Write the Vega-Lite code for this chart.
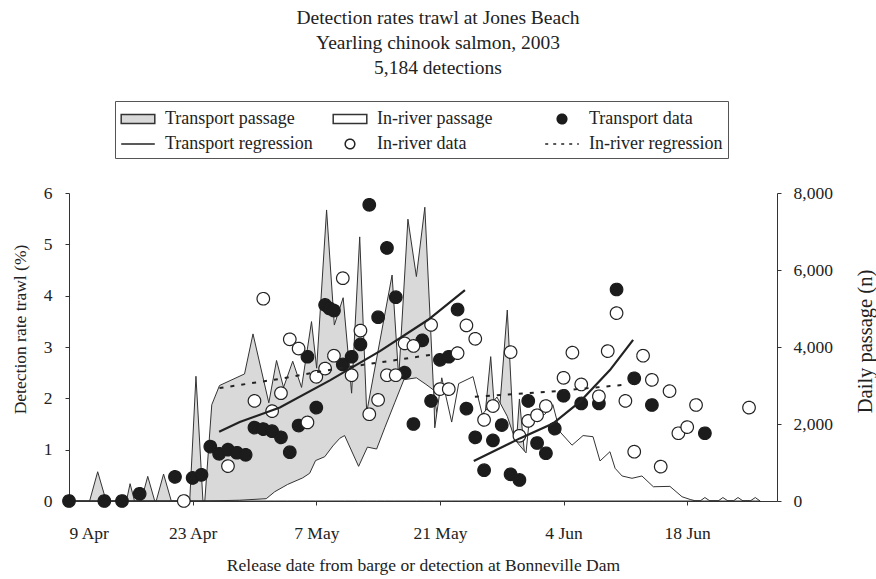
{
  "$schema": "https://vega.github.io/schema/vega-lite/v6.json",
  "width": 708,
  "height": 308,
  "autosize": {"type": "none"},
  "padding": {"left": 69, "top": 193, "right": 99, "bottom": 78},
  "background": "white",
  "title": {
    "text": ["Detection rates trawl at Jones Beach", "Yearling chinook salmon, 2003", "5,184 detections"],
    "font": "Liberation Serif",
    "fontSize": 19.5,
    "fontWeight": "normal",
    "color": "#222",
    "lineHeight": 25,
    "anchor": "middle",
    "dx": 15,
    "offset": 22
  },
  "config": {
    "font": "Liberation Serif",
    "view": {"stroke": null},
    "axis": {
      "labelFont": "Liberation Serif",
      "labelFontSize": 17.5,
      "labelColor": "#222",
      "titleFont": "Liberation Serif",
      "titleFontSize": 17.5,
      "titleFontWeight": "normal",
      "titleColor": "#222",
      "domainColor": "#333",
      "tickColor": "#333",
      "tickSize": 4,
      "grid": false,
      "labelPadding": 13
    },
    "legend": {
      "orient": "none",
      "legendX": 46,
      "legendY": -92,
      "direction": "horizontal",
      "columns": 3,
      "gridAlign": "all",
      "columnPadding": 17,
      "rowPadding": 3,
      "padding": 5,
      "symbolSize": 576,
      "symbolOffset": 5,
      "labelOffset": 14,
      "labelFont": "Liberation Serif",
      "labelFontSize": 18,
      "labelColor": "#222",
      "labelLimit": 300,
      "strokeColor": "#555",
      "symbolStrokeWidth": 1.5
    }
  },
  "datasets": {
    "transport_passage": [
      {"date": "2003-04-09T00:00Z", "passage": 0},
      {"date": "2003-04-11T08:00Z", "passage": 0},
      {"date": "2003-04-12T06:00Z", "passage": 760},
      {"date": "2003-04-13T05:00Z", "passage": 0},
      {"date": "2003-04-15T12:00Z", "passage": 0},
      {"date": "2003-04-15T22:00Z", "passage": 450},
      {"date": "2003-04-16T10:00Z", "passage": 0},
      {"date": "2003-04-17T04:00Z", "passage": 0},
      {"date": "2003-04-17T22:00Z", "passage": 640},
      {"date": "2003-04-18T17:00Z", "passage": 0},
      {"date": "2003-04-18T21:00Z", "passage": 0},
      {"date": "2003-04-19T17:00Z", "passage": 700},
      {"date": "2003-04-20T14:00Z", "passage": 0},
      {"date": "2003-04-22T16:00Z", "passage": 0},
      {"date": "2003-04-23T09:00Z", "passage": 3240},
      {"date": "2003-04-24T04:00Z", "passage": 0},
      {"date": "2003-04-24T09:00Z", "passage": 0},
      {"date": "2003-04-25T04:00Z", "passage": 2500},
      {"date": "2003-04-26T01:00Z", "passage": 3000},
      {"date": "2003-04-28T21:00Z", "passage": 3300},
      {"date": "2003-04-29T20:00Z", "passage": 4340},
      {"date": "2003-05-01T15:00Z", "passage": 2550},
      {"date": "2003-05-02T12:00Z", "passage": 3650},
      {"date": "2003-05-03T07:00Z", "passage": 2950},
      {"date": "2003-05-04T08:00Z", "passage": 3630},
      {"date": "2003-05-05T08:00Z", "passage": 2950},
      {"date": "2003-05-06T11:00Z", "passage": 4660},
      {"date": "2003-05-07T01:00Z", "passage": 3450},
      {"date": "2003-05-08T04:00Z", "passage": 7560},
      {"date": "2003-05-09T01:00Z", "passage": 4570},
      {"date": "2003-05-10T01:00Z", "passage": 5280},
      {"date": "2003-05-11T00:00Z", "passage": 2800},
      {"date": "2003-05-11T22:00Z", "passage": 6860},
      {"date": "2003-05-12T17:00Z", "passage": 2300},
      {"date": "2003-05-15T14:00Z", "passage": 5870},
      {"date": "2003-05-16T08:00Z", "passage": 3200},
      {"date": "2003-05-17T09:00Z", "passage": 7320},
      {"date": "2003-05-18T08:00Z", "passage": 5830},
      {"date": "2003-05-19T07:00Z", "passage": 7630},
      {"date": "2003-05-20T07:00Z", "passage": 2800},
      {"date": "2003-05-21T05:00Z", "passage": 1500},
      {"date": "2003-05-23T03:00Z", "passage": 1500},
      {"date": "2003-05-24T18:00Z", "passage": 1500},
      {"date": "2003-05-25T19:00Z", "passage": 1500},
      {"date": "2003-05-26T18:00Z", "passage": 3750},
      {"date": "2003-05-27T11:00Z", "passage": 1500},
      {"date": "2003-05-28T15:00Z", "passage": 4960},
      {"date": "2003-05-29T12:00Z", "passage": 1000},
      {"date": "2003-05-30T00:00Z", "passage": 2650},
      {"date": "2003-05-30T18:00Z", "passage": 800},
      {"date": "2003-05-31T04:00Z", "passage": 0},
      {"date": "2003-06-26T06:00Z", "passage": 0}
    ],
    "inriver_passage": [
      {"date": "2003-04-09T00:00Z", "passage": 0},
      {"date": "2003-04-24T09:00Z", "passage": 0},
      {"date": "2003-04-28T08:00Z", "passage": 20},
      {"date": "2003-05-01T08:00Z", "passage": 60},
      {"date": "2003-05-02T07:00Z", "passage": 240},
      {"date": "2003-05-03T18:00Z", "passage": 430},
      {"date": "2003-05-05T11:00Z", "passage": 600},
      {"date": "2003-05-06T06:00Z", "passage": 720},
      {"date": "2003-05-06T22:00Z", "passage": 1050},
      {"date": "2003-05-07T23:00Z", "passage": 1150},
      {"date": "2003-05-08T21:00Z", "passage": 1430},
      {"date": "2003-05-09T16:00Z", "passage": 1630},
      {"date": "2003-05-10T05:00Z", "passage": 1700},
      {"date": "2003-05-11T19:00Z", "passage": 900},
      {"date": "2003-05-12T19:00Z", "passage": 1400},
      {"date": "2003-05-13T20:00Z", "passage": 1350},
      {"date": "2003-05-14T18:00Z", "passage": 1900},
      {"date": "2003-05-15T21:00Z", "passage": 2550},
      {"date": "2003-05-16T22:00Z", "passage": 3150},
      {"date": "2003-05-18T08:00Z", "passage": 3200},
      {"date": "2003-05-19T10:00Z", "passage": 3030},
      {"date": "2003-05-20T07:00Z", "passage": 2880},
      {"date": "2003-05-20T10:00Z", "passage": 1900},
      {"date": "2003-05-21T05:00Z", "passage": 3200},
      {"date": "2003-05-22T08:00Z", "passage": 2050},
      {"date": "2003-05-23T03:00Z", "passage": 3050},
      {"date": "2003-05-24T18:00Z", "passage": 3230},
      {"date": "2003-05-25T19:00Z", "passage": 2250},
      {"date": "2003-05-26T18:00Z", "passage": 2500},
      {"date": "2003-05-27T11:00Z", "passage": 2700},
      {"date": "2003-05-28T15:00Z", "passage": 2200},
      {"date": "2003-05-29T12:00Z", "passage": 1600},
      {"date": "2003-05-30T00:00Z", "passage": 1450},
      {"date": "2003-05-30T18:00Z", "passage": 1250},
      {"date": "2003-05-31T04:00Z", "passage": 2230},
      {"date": "2003-06-01T21:00Z", "passage": 2250},
      {"date": "2003-06-02T19:00Z", "passage": 2500},
      {"date": "2003-06-03T14:00Z", "passage": 1800},
      {"date": "2003-06-04T23:00Z", "passage": 1450},
      {"date": "2003-06-06T05:00Z", "passage": 1700},
      {"date": "2003-06-07T08:00Z", "passage": 1670},
      {"date": "2003-06-08T03:00Z", "passage": 1040},
      {"date": "2003-06-09T06:00Z", "passage": 1280},
      {"date": "2003-06-09T20:00Z", "passage": 850},
      {"date": "2003-06-10T15:00Z", "passage": 650},
      {"date": "2003-06-11T18:00Z", "passage": 590},
      {"date": "2003-06-12T21:00Z", "passage": 650},
      {"date": "2003-06-14T04:00Z", "passage": 370},
      {"date": "2003-06-16T01:00Z", "passage": 380},
      {"date": "2003-06-17T10:00Z", "passage": 110},
      {"date": "2003-06-18T08:00Z", "passage": 40},
      {"date": "2003-06-19T00:00Z", "passage": 0},
      {"date": "2003-06-19T11:00Z", "passage": 0},
      {"date": "2003-06-20T00:00Z", "passage": 90},
      {"date": "2003-06-20T14:00Z", "passage": 0},
      {"date": "2003-06-21T12:00Z", "passage": 0},
      {"date": "2003-06-22T01:00Z", "passage": 90},
      {"date": "2003-06-22T15:00Z", "passage": 0},
      {"date": "2003-06-23T05:00Z", "passage": 0},
      {"date": "2003-06-23T18:00Z", "passage": 90},
      {"date": "2003-06-24T08:00Z", "passage": 0},
      {"date": "2003-06-25T03:00Z", "passage": 0},
      {"date": "2003-06-25T17:00Z", "passage": 90},
      {"date": "2003-06-26T06:00Z", "passage": 0}
    ],
    "rates": [
      {"date": "2003-04-09", "series": "Transport data", "rate": 0},
      {"date": "2003-04-13", "series": "Transport data", "rate": 0},
      {"date": "2003-04-15", "series": "Transport data", "rate": 0},
      {"date": "2003-04-17", "series": "Transport data", "rate": 0.14},
      {"date": "2003-04-21", "series": "Transport data", "rate": 0.47},
      {"date": "2003-04-23", "series": "Transport data", "rate": 0.45},
      {"date": "2003-04-24", "series": "Transport data", "rate": 0.51},
      {"date": "2003-04-25", "series": "Transport data", "rate": 1.06},
      {"date": "2003-04-26", "series": "Transport data", "rate": 0.92},
      {"date": "2003-04-27", "series": "Transport data", "rate": 1.0},
      {"date": "2003-04-28", "series": "Transport data", "rate": 0.94},
      {"date": "2003-04-29", "series": "Transport data", "rate": 0.9},
      {"date": "2003-04-30", "series": "Transport data", "rate": 1.43},
      {"date": "2003-05-01", "series": "Transport data", "rate": 1.4},
      {"date": "2003-05-02", "series": "Transport data", "rate": 1.36},
      {"date": "2003-05-03", "series": "Transport data", "rate": 1.24},
      {"date": "2003-05-04", "series": "Transport data", "rate": 0.95},
      {"date": "2003-05-05", "series": "Transport data", "rate": 1.47},
      {"date": "2003-05-06", "series": "Transport data", "rate": 2.81},
      {"date": "2003-05-07", "series": "Transport data", "rate": 1.82},
      {"date": "2003-05-08", "series": "Transport data", "rate": 3.82},
      {"date": "2003-05-08T12:00Z", "series": "Transport data", "rate": 3.75},
      {"date": "2003-05-09", "series": "Transport data", "rate": 3.71},
      {"date": "2003-05-10", "series": "Transport data", "rate": 2.66},
      {"date": "2003-05-11", "series": "Transport data", "rate": 2.81},
      {"date": "2003-05-12", "series": "Transport data", "rate": 3.05},
      {"date": "2003-05-13", "series": "Transport data", "rate": 5.77},
      {"date": "2003-05-14", "series": "Transport data", "rate": 3.58},
      {"date": "2003-05-15", "series": "Transport data", "rate": 4.93},
      {"date": "2003-05-16", "series": "Transport data", "rate": 3.97},
      {"date": "2003-05-17", "series": "Transport data", "rate": 2.5},
      {"date": "2003-05-18", "series": "Transport data", "rate": 1.5},
      {"date": "2003-05-19", "series": "Transport data", "rate": 3.13},
      {"date": "2003-05-20", "series": "Transport data", "rate": 1.95},
      {"date": "2003-05-21", "series": "Transport data", "rate": 2.75},
      {"date": "2003-05-22", "series": "Transport data", "rate": 2.81},
      {"date": "2003-05-23", "series": "Transport data", "rate": 3.73},
      {"date": "2003-05-24", "series": "Transport data", "rate": 1.8},
      {"date": "2003-05-25", "series": "Transport data", "rate": 1.24},
      {"date": "2003-05-26", "series": "Transport data", "rate": 0.6},
      {"date": "2003-05-27", "series": "Transport data", "rate": 1.18},
      {"date": "2003-05-28", "series": "Transport data", "rate": 1.48},
      {"date": "2003-05-29", "series": "Transport data", "rate": 0.52},
      {"date": "2003-05-30", "series": "Transport data", "rate": 0.41},
      {"date": "2003-05-31", "series": "Transport data", "rate": 1.95},
      {"date": "2003-06-01", "series": "Transport data", "rate": 1.13},
      {"date": "2003-06-02", "series": "Transport data", "rate": 0.93},
      {"date": "2003-06-03", "series": "Transport data", "rate": 1.41},
      {"date": "2003-06-04", "series": "Transport data", "rate": 2.05},
      {"date": "2003-06-06", "series": "Transport data", "rate": 1.9},
      {"date": "2003-06-08", "series": "Transport data", "rate": 1.9},
      {"date": "2003-06-10", "series": "Transport data", "rate": 4.12},
      {"date": "2003-06-12", "series": "Transport data", "rate": 2.39},
      {"date": "2003-06-14", "series": "Transport data", "rate": 1.87},
      {"date": "2003-06-20", "series": "Transport data", "rate": 1.32},
      {"date": "2003-04-22", "series": "In-river data", "rate": 0},
      {"date": "2003-04-27", "series": "In-river data", "rate": 0.68},
      {"date": "2003-04-30", "series": "In-river data", "rate": 1.95},
      {"date": "2003-05-01", "series": "In-river data", "rate": 3.94},
      {"date": "2003-05-02", "series": "In-river data", "rate": 1.75},
      {"date": "2003-05-03", "series": "In-river data", "rate": 2.1},
      {"date": "2003-05-04", "series": "In-river data", "rate": 3.15},
      {"date": "2003-05-05", "series": "In-river data", "rate": 2.97},
      {"date": "2003-05-06", "series": "In-river data", "rate": 1.53},
      {"date": "2003-05-07", "series": "In-river data", "rate": 2.42},
      {"date": "2003-05-08", "series": "In-river data", "rate": 2.58},
      {"date": "2003-05-09", "series": "In-river data", "rate": 2.83},
      {"date": "2003-05-10", "series": "In-river data", "rate": 4.34},
      {"date": "2003-05-11", "series": "In-river data", "rate": 2.45},
      {"date": "2003-05-12", "series": "In-river data", "rate": 3.32},
      {"date": "2003-05-13", "series": "In-river data", "rate": 1.69},
      {"date": "2003-05-14", "series": "In-river data", "rate": 1.97},
      {"date": "2003-05-15", "series": "In-river data", "rate": 2.45},
      {"date": "2003-05-16", "series": "In-river data", "rate": 2.45},
      {"date": "2003-05-17", "series": "In-river data", "rate": 3.07},
      {"date": "2003-05-18", "series": "In-river data", "rate": 3.02},
      {"date": "2003-05-20", "series": "In-river data", "rate": 3.43},
      {"date": "2003-05-21", "series": "In-river data", "rate": 2.18},
      {"date": "2003-05-22", "series": "In-river data", "rate": 2.18},
      {"date": "2003-05-23", "series": "In-river data", "rate": 2.88},
      {"date": "2003-05-24", "series": "In-river data", "rate": 3.42},
      {"date": "2003-05-25", "series": "In-river data", "rate": 3.16},
      {"date": "2003-05-26", "series": "In-river data", "rate": 1.58},
      {"date": "2003-05-27", "series": "In-river data", "rate": 1.85},
      {"date": "2003-05-29", "series": "In-river data", "rate": 2.9},
      {"date": "2003-05-30", "series": "In-river data", "rate": 1.27},
      {"date": "2003-05-31", "series": "In-river data", "rate": 1.56},
      {"date": "2003-06-01", "series": "In-river data", "rate": 1.67},
      {"date": "2003-06-02", "series": "In-river data", "rate": 1.85},
      {"date": "2003-06-04", "series": "In-river data", "rate": 2.4},
      {"date": "2003-06-05", "series": "In-river data", "rate": 2.89},
      {"date": "2003-06-06", "series": "In-river data", "rate": 2.27},
      {"date": "2003-06-08", "series": "In-river data", "rate": 2.04},
      {"date": "2003-06-09", "series": "In-river data", "rate": 2.92},
      {"date": "2003-06-10", "series": "In-river data", "rate": 3.66},
      {"date": "2003-06-11", "series": "In-river data", "rate": 1.95},
      {"date": "2003-06-12", "series": "In-river data", "rate": 0.96},
      {"date": "2003-06-13", "series": "In-river data", "rate": 2.83},
      {"date": "2003-06-14", "series": "In-river data", "rate": 2.36},
      {"date": "2003-06-15", "series": "In-river data", "rate": 0.67},
      {"date": "2003-06-16", "series": "In-river data", "rate": 2.14},
      {"date": "2003-06-17", "series": "In-river data", "rate": 1.32},
      {"date": "2003-06-18", "series": "In-river data", "rate": 1.44},
      {"date": "2003-06-19", "series": "In-river data", "rate": 1.87},
      {"date": "2003-06-25", "series": "In-river data", "rate": 1.82}
    ],
    "regression": [
      {"date": "2003-04-26T00:00Z", "series": "Transport regression", "segment": "T1", "rate": 1.35},
      {"date": "2003-04-28T08:00Z", "series": "Transport regression", "segment": "T1", "rate": 1.54},
      {"date": "2003-05-02T21:00Z", "series": "Transport regression", "segment": "T1", "rate": 1.82},
      {"date": "2003-05-08T13:00Z", "series": "Transport regression", "segment": "T1", "rate": 2.35},
      {"date": "2003-05-14T05:00Z", "series": "Transport regression", "segment": "T1", "rate": 2.92},
      {"date": "2003-05-19T16:00Z", "series": "Transport regression", "segment": "T1", "rate": 3.53},
      {"date": "2003-05-23T20:00Z", "series": "Transport regression", "segment": "T1", "rate": 4.11},
      {"date": "2003-05-24T20:00Z", "series": "Transport regression", "segment": "T2", "rate": 0.78},
      {"date": "2003-05-30T01:00Z", "series": "Transport regression", "segment": "T2", "rate": 1.22},
      {"date": "2003-06-02T19:00Z", "series": "Transport regression", "segment": "T2", "rate": 1.51},
      {"date": "2003-06-05T20:00Z", "series": "Transport regression", "segment": "T2", "rate": 1.93},
      {"date": "2003-06-09T06:00Z", "series": "Transport regression", "segment": "T2", "rate": 2.55},
      {"date": "2003-06-11T21:00Z", "series": "Transport regression", "segment": "T2", "rate": 3.14},
      {"date": "2003-04-26T01:00Z", "series": "In-river regression", "segment": "R1", "rate": 2.2},
      {"date": "2003-05-02T21:00Z", "series": "In-river regression", "segment": "R1", "rate": 2.38},
      {"date": "2003-05-09T08:00Z", "series": "In-river regression", "segment": "R1", "rate": 2.58},
      {"date": "2003-05-14T05:00Z", "series": "In-river regression", "segment": "R1", "rate": 2.7},
      {"date": "2003-05-20T02:00Z", "series": "In-river regression", "segment": "R1", "rate": 2.85},
      {"date": "2003-05-24T23:00Z", "series": "In-river regression", "segment": "R2", "rate": 2.03},
      {"date": "2003-06-02T11:00Z", "series": "In-river regression", "segment": "R2", "rate": 2.13},
      {"date": "2003-06-10T17:00Z", "series": "In-river regression", "segment": "R2", "rate": 2.26}
    ]
  },
  "encoding": {
    "x": {
      "field": "date",
      "type": "temporal",
      "scale": {
        "type": "utc",
        "domain": [
          {"year": 2003, "month": 4, "date": 9, "utc": true},
          {"year": 2003, "month": 6, "date": 28, "hours": 4, "utc": true}
        ]
      },
      "axis": {
        "values": [
          {"year": 2003, "month": 4, "date": 9, "utc": true},
          {"year": 2003, "month": 4, "date": 23, "utc": true},
          {"year": 2003, "month": 5, "date": 7, "utc": true},
          {"year": 2003, "month": 5, "date": 21, "utc": true},
          {"year": 2003, "month": 6, "date": 4, "utc": true},
          {"year": 2003, "month": 6, "date": 18, "utc": true}
        ],
        "format": "%-d %b",
        "labelPadding": 19,
        "title": "Release date from barge or detection at Bonneville Dam",
        "titlePadding": 15
      }
    }
  },
  "layer": [
    {
      "encoding": {
        "y": {
          "field": "passage",
          "type": "quantitative",
          "scale": {"domain": [0, 8000], "nice": false},
          "axis": {
            "orient": "right",
            "values": [0, 2000, 4000, 6000, 8000],
            "format": ",d",
            "labelPadding": 12,
            "title": "Daily passage (n)",
            "titleFontSize": 20.5,
            "titleAngle": 270,
            "titleAlign": "center",
            "titleBaseline": "middle",
            "titleX": 88,
            "titleY": 148
          }
        }
      },
      "layer": [
        {
          "data": {"name": "transport_passage"},
          "mark": {"type": "area", "fill": "#d9d9d9", "stroke": "#333", "strokeWidth": 1, "opacity": 1}
        },
        {
          "data": {"name": "inriver_passage"},
          "mark": {"type": "area", "fill": "#ffffff", "stroke": "#333", "strokeWidth": 1, "opacity": 1}
        }
      ]
    },
    {
      "encoding": {
        "y": {
          "field": "rate",
          "type": "quantitative",
          "scale": {"domain": [0, 6], "nice": false},
          "axis": {
            "orient": "left",
            "values": [0, 1, 2, 3, 4, 5, 6],
            "format": "d",
            "title": "Detection rate trawl (%)",
            "titleAngle": 270,
            "titleAlign": "center",
            "titleBaseline": "middle",
            "titleX": -49,
            "titleY": 136
          }
        }
      },
      "layer": [
        {
          "data": {"name": "rates"},
          "mark": {"type": "point", "filled": true, "size": 980, "opacity": 1, "strokeWidth": 1.2},
          "encoding": {
            "shape": {
              "field": "series",
              "type": "nominal",
              "scale": {
                "domain": ["Transport passage", "In-river passage", "Transport data", "Transport regression", "In-river data", "In-river regression"],
                "range": ["M-1.4,-0.38H1.4V0.38H-1.4Z", "M-1.4,-0.38H1.4V0.38H-1.4Z", "M-0.4,0A0.4,0.4,0,1,0,0.4,0A0.4,0.4,0,1,0,-0.4,0Z", "M-1.4,0H1.4", "M-0.4,0A0.4,0.4,0,1,0,0.4,0A0.4,0.4,0,1,0,-0.4,0Z", "M-1.4,0H1.4"]
              },
              "legend": {"title": null}
            },
            "fill": {
              "field": "series",
              "type": "nominal",
              "scale": {
                "domain": ["Transport passage", "In-river passage", "Transport data", "Transport regression", "In-river data", "In-river regression"],
                "range": ["#d9d9d9", "#ffffff", "#1c1c1c", "transparent", "#ffffff", "transparent"]
              },
              "legend": {"title": null}
            },
            "stroke": {
              "field": "series",
              "type": "nominal",
              "scale": {
                "domain": ["Transport passage", "In-river passage", "Transport data", "Transport regression", "In-river data", "In-river regression"],
                "range": ["#333", "#333", "#1c1c1c", "#222", "#222", "#222"]
              },
              "legend": {"title": null}
            },
            "strokeDash": {
              "field": "series",
              "type": "nominal",
              "scale": {
                "domain": ["Transport passage", "In-river passage", "Transport data", "Transport regression", "In-river data", "In-river regression"],
                "range": [[1, 0], [1, 0], [1, 0], [1, 0], [1, 0], [3, 5]]
              },
              "legend": {"title": null}
            }
          }
        },
        {
          "data": {"name": "regression"},
          "transform": [{"filter": "datum.series === 'Transport regression'"}],
          "mark": {"type": "line", "stroke": "#222", "strokeWidth": 2.2},
          "encoding": {"detail": {"field": "segment", "type": "nominal"}}
        },
        {
          "data": {"name": "regression"},
          "transform": [{"filter": "datum.series === 'In-river regression'"}],
          "mark": {"type": "line", "stroke": "#222", "strokeWidth": 2, "strokeDash": [4, 7]},
          "encoding": {"detail": {"field": "segment", "type": "nominal"}}
        }
      ]
    }
  ],
  "resolve": {"scale": {"y": "independent"}}
}
